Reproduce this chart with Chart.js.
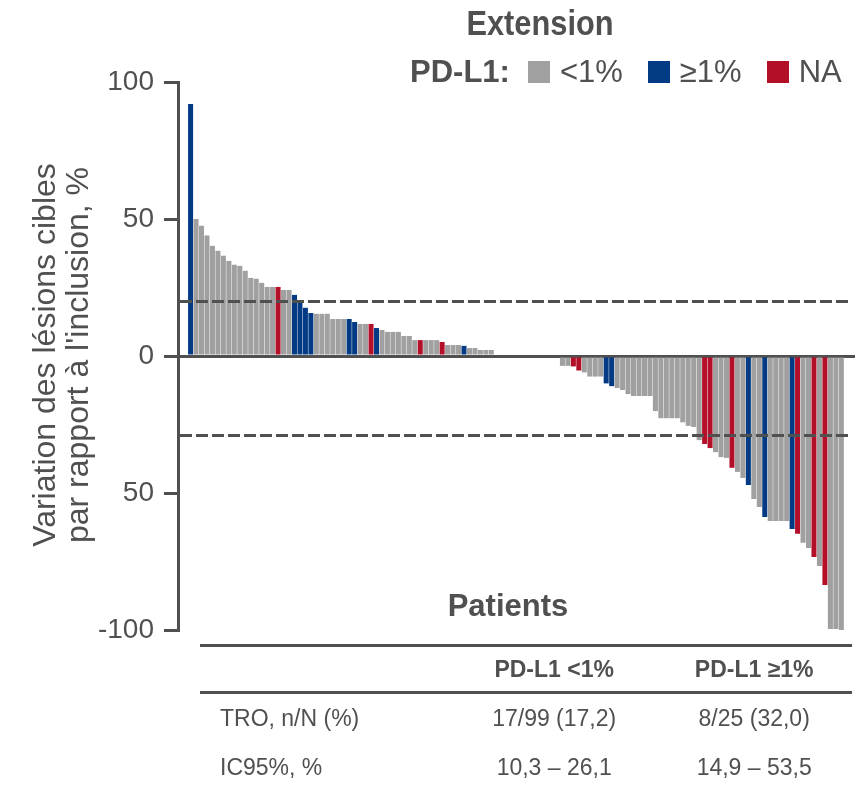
<!DOCTYPE html>
<html lang="fr">
<head>
<meta charset="utf-8">
<title>Extension – variation des lésions cibles</title>
<script src="https://cdn.jsdelivr.net/npm/chart.js@4.4.1/dist/chart.umd.min.js"></script>
<style>
  html, body { margin: 0; padding: 0; background: #fff; }
  #wrap { position: relative; width: 867px; height: 787px; overflow: hidden;
          font-family: "Liberation Sans", Arial, sans-serif; color: #505050; }
  #waterfall { position: absolute; left: 0; top: 0; }
  #title { position: absolute; left: 390px; width: 300px; top: 3px; text-align: center;
           font-size: 35px; font-weight: bold; transform: scaleX(0.88); }
  #legend { position: absolute; left: 410px; top: 54px; display: flex; align-items: center;
            font-size: 31px; white-space: nowrap; }
  #legend b { margin-right: 18px; }
  #legend .sw { display: inline-block; width: 22px; height: 22px; margin-right: 10px; }
  #legend .item { display: flex; align-items: center; margin-right: 25px; }
  #legend .item:last-child { margin-right: 0; }
  #ytitle { position: absolute; left: -159px; top: 322px; width: 440px; height: 66px;
            line-height: 33px; text-align: center; font-size: 32px; transform: rotate(-90deg); }
  #patients { position: absolute; left: 408px; width: 200px; top: 588px; text-align: center;
              font-size: 31px; font-weight: bold; }
  #summary { position: absolute; left: 200px; top: 644px; width: 652px; border-collapse: collapse;
             font-size: 23px; }
  #summary thead tr { border-top: 3px solid #505050; border-bottom: 3px solid #505050; }
  #summary th { height: 44px; font-weight: bold; text-align: center; padding: 0; }
  #summary td { height: 49px; text-align: center; padding: 0; }
  #summary td:first-child { text-align: left; padding-left: 20px; width: 232px; }
  #summary th:first-child { width: 252px; }
</style>
</head>
<body>
<div id="wrap">
  <canvas id="waterfall" width="867" height="787"></canvas>
  <div id="title">Extension</div>
  <div id="legend"><b>PD-L1:</b></div>
  <div id="ytitle">Variation des lésions cibles<br>par rapport à l'inclusion, %</div>
  <div id="patients">Patients</div>
  <table id="summary"><thead></thead><tbody></tbody></table>
</div>
<script>
// best change from baseline in target lesions, one bar per patient, sorted
var positiveChange = [
  92, 50, 47.5, 44, 40.2, 38.4, 36.6, 34.7, 33.3, 32.9, 31.1, 28.5, 28.2, 26.7,
  25.2, 25.2, 25.2, 24.1, 24.1, 22.3, 19.4, 17.6, 15.7, 15.4, 15.4, 15.4, 13.5,
  13.5, 13.5, 13.5, 12.4, 11.7, 11.7, 11.7, 10.2, 9.5, 8.8, 8.8, 8.8, 7.3, 7.3,
  5.8, 5.8, 5.8, 5.8, 5.8, 5.1, 4.0, 4.0, 4.0, 3.7, 2.9, 2.9, 2.2, 2.2, 2.2
];
var positiveStatus = [
  'ge1', 'lt1', 'lt1', 'lt1', 'lt1', 'lt1', 'lt1', 'lt1', 'lt1', 'lt1', 'lt1', 'lt1', 'lt1', 'lt1',
  'lt1', 'lt1', 'na', 'lt1', 'lt1', 'ge1', 'ge1', 'ge1', 'ge1', 'lt1', 'lt1', 'lt1', 'lt1',
  'lt1', 'lt1', 'ge1', 'ge1', 'lt1', 'lt1', 'na', 'ge1', 'lt1', 'lt1', 'lt1', 'lt1', 'lt1', 'lt1',
  'lt1', 'na', 'lt1', 'lt1', 'lt1', 'na', 'lt1', 'lt1', 'lt1', 'ge1', 'lt1', 'lt1', 'lt1', 'lt1', 'lt1'
];
var stableChange = [0, 0, 0, 0, 0, 0, 0, 0, 0, 0, 0, 0];
var stableStatus = ['lt1', 'lt1', 'lt1', 'lt1', 'lt1', 'lt1', 'lt1', 'lt1', 'lt1', 'lt1', 'lt1', 'lt1'];
var negativeChange = [
  -3.6, -3.6, -3.8, -5.3, -6.0, -7.5, -7.5, -7.5, -10.0, -11.0, -11.7, -12.4, -13.9,
  -14.6, -14.6, -14.6, -14.6, -20.1, -22.7, -22.7, -22.7, -22.7, -24.2, -25.5, -25.9,
  -30.7, -32.1, -33.6, -35.1, -36.9, -37.2, -40.8, -42.3, -44.5, -47.1, -52.2, -55.1,
  -58.8, -60.2, -60.2, -60.2, -60.2, -63.1, -64.9, -68.2, -70.1, -73.4, -76.6, -83.6,
  -99.6, -99.6, -100
];
var negativeStatus = [
  'lt1', 'lt1', 'na', 'na', 'lt1', 'lt1', 'lt1', 'lt1', 'ge1', 'ge1', 'lt1', 'lt1', 'lt1',
  'lt1', 'lt1', 'lt1', 'lt1', 'lt1', 'lt1', 'lt1', 'lt1', 'lt1', 'lt1', 'lt1', 'lt1',
  'lt1', 'na', 'na', 'lt1', 'lt1', 'lt1', 'na', 'lt1', 'lt1', 'ge1', 'lt1', 'lt1',
  'ge1', 'lt1', 'lt1', 'lt1', 'lt1', 'ge1', 'na', 'lt1', 'lt1', 'na', 'lt1', 'na',
  'lt1', 'lt1', 'lt1'
];

var yTicks = [100, 50, 0, -50, -100];
var yTickLabels = ['100', '50', '0', '50', '-100'];
var thresholds = [20, -29];

var statusKeys = ['lt1', 'ge1', 'na'];
var statusNames = ['<1%', '≥1%', 'NA'];
var statusColors = { lt1: '#a0a0a0', ge1: '#033a84', na: '#b40f28' };

var tableHead = ['', 'PD-L1 <1%', 'PD-L1 ≥1%'];
var tableRows = [
  ['TRO, n/N (%)', '17/99 (17,2)', '8/25 (32,0)'],
  ['IC95%, %', '10,3 – 26,1', '14,9 – 53,5']
];

var axisColor = '#505050';
var fontFamily = '"Liberation Sans", Arial, sans-serif';

document.addEventListener('DOMContentLoaded', function () {
  var change = positiveChange.concat(stableChange, negativeChange);
  var status = positiveStatus.concat(stableStatus, negativeStatus);
  var patients = change.map(function (v, i) { return i; });

  // legend
  var legend = document.getElementById('legend');
  statusKeys.forEach(function (key, i) {
    var item = document.createElement('span');
    item.className = 'item';
    item.innerHTML = '<span class="sw" style="background:' + statusColors[key] + '"></span>' + statusNames[i];
    legend.appendChild(item);
  });

  // summary table
  var head = document.querySelector('#summary thead');
  var hr = document.createElement('tr');
  tableHead.forEach(function (t) {
    var th = document.createElement('th');
    th.textContent = t;
    hr.appendChild(th);
  });
  head.appendChild(hr);
  var body = document.querySelector('#summary tbody');
  tableRows.forEach(function (row) {
    var tr = document.createElement('tr');
    row.forEach(function (t) {
      var td = document.createElement('td');
      td.textContent = t;
      tr.appendChild(td);
    });
    body.appendChild(tr);
  });

  var refLines = {
    id: 'refLines',
    afterDatasetsDraw: function (chart) {
      var ctx = chart.ctx;
      var area = chart.chartArea;
      var y = chart.scales.y;
      ctx.save();
      ctx.strokeStyle = axisColor;
      ctx.lineWidth = 3;
      ctx.setLineDash([12, 4]);
      thresholds.forEach(function (t) {
        var py = Math.round(y.getPixelForValue(t)) + 0.5;
        ctx.beginPath();
        ctx.moveTo(area.left + 2, py);
        ctx.lineTo(area.right - 3, py);
        ctx.stroke();
      });
      ctx.restore();
    }
  };

  var ctx = document.getElementById('waterfall').getContext('2d');
  new Chart(ctx, {
    type: 'bar',
    data: {
      labels: patients,
      datasets: [{
        data: change,
        backgroundColor: status.map(function (s) { return statusColors[s]; }),
        borderWidth: 0,
        categoryPercentage: 1,
        barPercentage: 0.92
      }]
    },
    options: {
      responsive: false,
      animation: false,
      layout: { padding: { top: 82, bottom: 157, left: 78, right: 12 } },
      plugins: { legend: { display: false }, tooltip: { enabled: false } },
      scales: {
        x: {
          type: 'linear',
          display: false,
          offset: false,
          bounds: 'data',
          min: -2.3,
          max: change.length + 1.5
        },
        y: {
          min: -100,
          max: 100,
          afterFit: function (scale) { scale.width = 100; },
          afterBuildTicks: function (scale) {
            scale.ticks = yTicks.map(function (v) { return { value: v }; });
          },
          ticks: {
            color: axisColor,
            padding: 10,
            font: { family: fontFamily, size: 28 },
            callback: function (v) {
              var i = yTicks.indexOf(v);
              return i >= 0 ? yTickLabels[i] : '';
            }
          },
          grid: {
            lineWidth: 3,
            tickLength: 14,
            tickWidth: 3,
            tickColor: axisColor,
            color: function (c) {
              return c.tick && c.tick.value === 0 ? axisColor : 'rgba(0,0,0,0)';
            }
          },
          border: { display: true, color: axisColor, width: 3 }
        }
      }
    },
    plugins: [refLines]
  });
});
</script>
</body>
</html>
